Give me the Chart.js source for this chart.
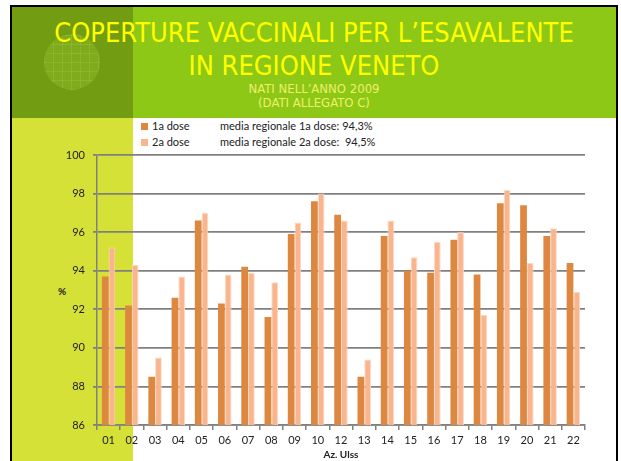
<!DOCTYPE html>
<html>
<head>
<meta charset="utf-8">
<script src="https://cdn.jsdelivr.net/npm/chart.js@4/dist/chart.umd.min.js"></script>
<style>
  html, body { margin: 0; padding: 0; background: #fff; }
  body { width: 621px; height: 461px; position: relative; overflow: hidden; font-family: Lato, "Liberation Sans", sans-serif; }
  .frame { position: absolute; left: 10px; top: 5px; width: 604px; height: 470px; border: 2px solid #000; border-bottom: none; background: #fff; }
  .head { position: absolute; left: 12px; top: 7px; width: 604px; height: 111px; background: #8dc816; }
  .headdark { position: absolute; left: 12px; top: 7px; width: 121px; height: 111px; background: #729c12; }
  .circle { position: absolute; left: 44px; top: 34px; width: 56px; height: 56px; border-radius: 50%;
    background-color: #7fab1c;
    background-image: repeating-linear-gradient(0deg, rgba(150,195,60,0.45) 0 1px, transparent 1px 9px),
                      repeating-linear-gradient(90deg, rgba(150,195,60,0.45) 0 1px, transparent 1px 9px); }
  .strip { position: absolute; left: 12px; top: 118px; width: 121px; height: 343px; background: #d5e136; }
  .title { position: absolute; left: 12px; width: 604px; text-align: center; color: #ffff00;
    font-family: "Liberation Sans Narrow", "DejaVu Sans Condensed", "DejaVu Sans", sans-serif; font-stretch: condensed; white-space: nowrap; }
  .t1 { top: 17px; font-size: 27px; line-height: 32px; }
  .t2 { top: 50px; font-size: 27px; line-height: 32px; }
  .sub { color: #eef06a; font-size: 13px; line-height: 14px; }
  .s1 { top: 82px; }
  .s2 { top: 96px; }
  .leg { position: absolute; font-size: 11px; color: #222; white-space: nowrap; line-height: 12px; }
  .sw { display: inline-block; width: 7px; height: 7px; margin-right: 4px; vertical-align: 0px; }
  .pct { position: absolute; left: 58px; top: 285px; font-size: 10px; font-weight: bold; color: #222; }
  canvas { position: absolute; left: 0; top: 0; }
</style>
</head>
<body>
<div class="frame"></div>
<div class="head"></div>
<div class="headdark"></div>
<div class="circle"></div>
<div class="strip"></div>
<div class="title t1">COPERTURE VACCINALI PER L’ESAVALENTE</div>
<div class="title t2">IN REGIONE VENETO</div>
<div class="title sub s1">NATI NELL’ANNO 2009</div>
<div class="title sub s2">(DATI ALLEGATO C)</div>
<div class="leg" style="left:141px; top:120px;"><span class="sw" style="background:#dd8740"></span>1a dose</div>
<div class="leg" style="left:141px; top:136px;"><span class="sw" style="background:#f9b58d"></span>2a dose</div>
<div class="leg" style="left:220px; top:120px;">media regionale 1a dose: 94,3%</div>
<div class="leg" style="left:220px; top:136px;">media regionale 2a dose:&nbsp; 94,5%</div>
<div class="pct">%</div>
<canvas id="c" width="621" height="461"></canvas>
<script>
// Coperture vaccinali esavalente, nati 2009, per Az. Ulss
const ulss = ['01', '02', '03', '04', '05', '06', '07', '08', '09', '10', '12',
    '13', '14', '15', '16', '17', '18', '19', '20', '21', '22'];
const dose1 = [93.7, 92.2, 88.5, 92.6, 96.6, 92.3, 94.2, 91.6, 95.9, 97.6, 96.9,
    88.5, 95.8, 94.0, 93.9, 95.6, 93.8, 97.5, 97.4, 95.8, 94.4];
const dose2 = [95.2, 94.3, 89.5, 93.7, 97.0, 93.8, 93.9, 93.4, 96.5, 98.0, 96.6,
    89.4, 96.6, 94.7, 95.5, 96.0, 91.7, 98.2, 94.4, 96.2, 92.9];
const yTicks = [86, 88, 90, 92, 94, 96, 98, 100];

const el = document.getElementById('c');
new Chart(el.getContext('2d'), {
    type: 'bar',
    data: {
        labels: ulss,
        datasets: [
            { label: '1a dose', data: dose1, backgroundColor: '#dd8740', borderWidth: 0 },
            { label: '2a dose', data: dose2, backgroundColor: '#f9b58d',
              borderColor: '#fdd9c4', borderWidth: 1, borderSkipped: 'bottom' },
        ],
    },
    options: {
        responsive: false,
        animation: false,
        layout: { padding: { top: 155, right: 36, left: 0, bottom: 0 } },
        categoryPercentage: 0.58,
        barPercentage: 1.0,
        plugins: {
            legend: { display: false },
            tooltip: { enabled: false },
        },
        scales: {
            x: {
                grid: { offset: true, drawOnChartArea: false, drawTicks: true, tickLength: 5, color: '#808080', lineWidth: 1.5 },
                border: { color: '#808080', width: 1.5 },
                ticks: { color: '#222', font: { family: 'Lato', size: 11 }, padding: 4, maxRotation: 0 },
                title: { display: true, text: 'Az. Ulss', color: '#222', font: { family: 'Lato', size: 10, weight: 'bold' }, padding: { top: 0, bottom: 0 } },
                afterFit: (s) => { s.height = 36; },
            },
            y: {
                min: 86, max: 100,
                afterBuildTicks: (s) => { s.ticks = yTicks.map(v => ({ value: v })); },
                grid: { color: '#808080', lineWidth: 1.8, tickLength: 4 },
                border: { color: '#808080', width: 1.5 },
                ticks: { color: '#222', font: { family: 'Lato', size: 11 }, padding: 8 },
                afterFit: (s) => { s.width = 97; },
            },
        },
    },
});
</script>
</body>
</html>
